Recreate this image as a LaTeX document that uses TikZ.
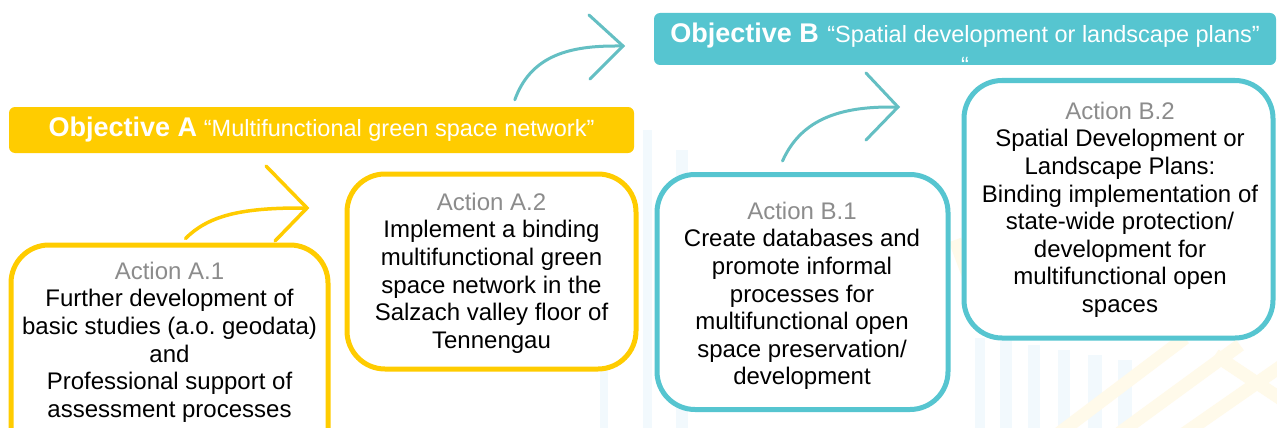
\documentclass[tikz,border=0pt]{standalone}
\usepackage{fontspec}
\setmainfont{Liberation Sans}
\usetikzlibrary{calc}
\definecolor{ayellow}{HTML}{FFCC00}
\definecolor{bteal}{HTML}{56C5D0}
\definecolor{arrteal}{HTML}{64BFC3}
\definecolor{agray}{HTML}{8C8C8C}
\definecolor{bgblue}{HTML}{F2F9FD}
\definecolor{bgyellow}{HTML}{FFFAEA}
\tikzset{
  objbar/.style={rounded corners=6pt, inner sep=0pt, text=white},
  actbox/.style={draw, fill=white, line width=5pt, rounded corners=38pt, inner sep=0pt},
  acttext/.style={align=center, inner sep=0pt, anchor=north, font=\fontsize{24}{27.6}\selectfont},
  curvearrow/.style={line width=3.5pt, line cap=round, line join=miter},
  bgstripe/.style={fill=bgblue},
  bgband/.style={draw=bgyellow, line width=13pt}
}
\frenchspacing
\begin{document}
\begin{tikzpicture}[x=1pt,y=-1pt]
\useasboundingbox (0,0) rectangle (1277,428);
\clip (0,0) rectangle (1277,428);
\fill[white] (0,0) rectangle (1277,428);
% faint background pattern
\fill[bgstripe] (600,230) rectangle (608,428);
\fill[bgstripe] (643,130) rectangle (652,428);
\fill[bgstripe] (676,150) rectangle (688,428);
\fill[bgstripe] (975,338) rectangle (985,428);
\fill[bgstripe] (1000,338) rectangle (1012,428);
\fill[bgstripe] (1028,345) rectangle (1040,428);
\fill[bgstripe] (1058,350) rectangle (1070,428);
\fill[bgstripe] (1088,355) rectangle (1102,428);
\fill[bgstripe] (1118,360) rectangle (1132,428);
\draw[bgband] (1050,440) -- (1185,338);
\draw[bgband] (1110,440) -- (1240,345);
\draw[bgband] (1175,440) -- (1290,360);
\draw[bgband] (1215,355) -- (1290,405);
\draw[bgband] (955,240) -- (985,320);
% objective bars
\node[objbar, fill=ayellow, minimum width=625pt, minimum height=46pt] (objA) at (321.5,130)
  {{\fontsize{27}{31}\selectfont\bfseries Objective A}\hspace{4pt} {\fontsize{23.5}{28}\selectfont “Multifunctional green space network”}};
\node[objbar, fill=bteal, minimum width=622pt, minimum height=52pt] (objB) at (965,39) {};
\node[align=center, inner sep=0pt, anchor=north, text=white, font=\fontsize{23.5}{31}\selectfont] (objBtext) at (965,22.5)
  {{\fontsize{27}{31}\selectfont\bfseries Objective B}\hspace{2pt} “Spatial development or landscape plans”\\“};
% action boxes
\node[actbox, draw=ayellow, minimum width=317pt, minimum height=223pt] (a1) at (169.5,356.5) {};
\node[actbox, draw=ayellow, minimum width=289pt, minimum height=195pt] (a2) at (491.5,271.5) {};
\node[actbox, draw=bteal, minimum width=291pt, minimum height=235pt] (b1) at (802.5,292) {};
\node[actbox, draw=bteal, minimum width=309pt, minimum height=257.5pt] (b2) at (1118.5,209.25) {};
% action texts
\node[acttext] (a1t) at (169.5,261.7) {\textcolor{agray}{Action A.1}\\Further development of\\basic studies (a.o. geodata)\\and\\Professional support of\\assessment processes};
\node[acttext] (a2t) at (491.5,192.8) {\textcolor{agray}{Action A.2}\\Implement a binding\\multifunctional green\\space network in the\\Salzach valley floor of\\Tennengau};
\node[acttext] (b1t) at (802,201.7) {\textcolor{agray}{Action B.1}\\Create databases and\\promote informal\\processes for\\multifunctional open\\space preservation/\\development};
\node[acttext] (b2t) at (1120,101.7) {\textcolor{agray}{Action B.2}\\Spatial Development or\\Landscape Plans:\\Binding implementation of\\state-wide protection/\\development for\\multifunctional open\\spaces};
% curved arrows
\coordinate (ya0) at ($(a1.north west)+(177,-4)$);
\coordinate (yatip) at (307,208);
\draw[curvearrow, ayellow] (ya0) .. controls (208,216) and (240,208) .. (300,208) -- (yatip);
\draw[curvearrow, ayellow] (266,166) -- (yatip) -- (275,241);
\coordinate (ta0) at ($(objA.north west)+(506,-7)$);
\coordinate (tatip) at (623,46);
\draw[curvearrow, arrteal, line width=3pt] (ta0) .. controls (530,58) and (565,46) .. (615,46) -- (tatip);
\draw[curvearrow, arrteal, line width=3pt] (589,15) -- (tatip) -- (590,79);
\coordinate (tb0) at ($(b1.north west)+(128,-11)$);
\coordinate (tbtip) at (898,107);
\draw[curvearrow, arrteal, line width=3pt] (tb0) .. controls (800,122) and (835,107) .. (890,107) -- (tbtip);
\draw[curvearrow, arrteal, line width=3pt] (866,73) -- (tbtip) -- (866,140);
\end{tikzpicture}
\end{document}
